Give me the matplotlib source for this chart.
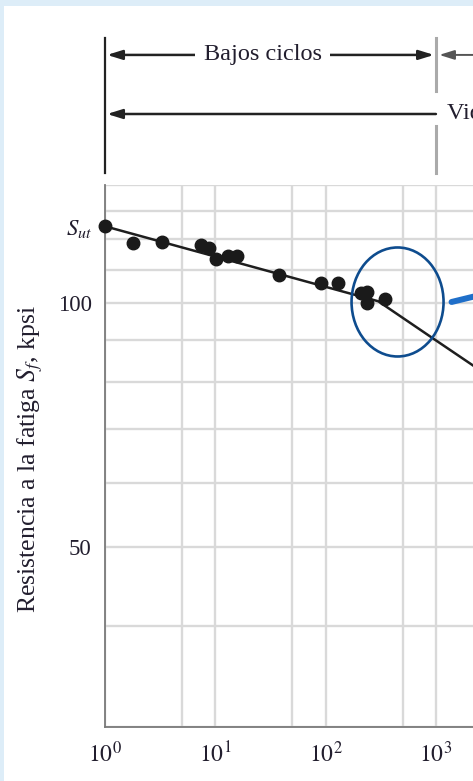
import numpy as np
import matplotlib
matplotlib.use("Agg")
import matplotlib.pyplot as plt
from matplotlib import transforms
from matplotlib.patches import Ellipse, Rectangle
from matplotlib.lines import Line2D
from matplotlib.ticker import FixedLocator, NullLocator

plt.rcParams["font.family"] = ["Liberation Serif", "DejaVu Serif"]
plt.rcParams["mathtext.fontset"] = "stix"

# ── data ──────────────────────────────────────────────────────────────────
N_pts = [1, 1.78, 3.28, 7.4, 8.8, 10.1, 13, 15.8, 37.8, 90, 128, 210, 237, 237, 343]
S_pts = [124.5, 118.7, 119.0, 118.1, 117.0, 113.4, 114.3, 114.3, 108.3, 105.9,
         105.9, 103.0, 103.3, 100.1, 101.3]

N_line = [1, 300, 1000, 10000]
S_line = [124.5, 100.6, 90.0, 72.8]

S_ut = 124.5
x_ticks = [1, 10, 100, 1000]
x_ticklabels = [r"$10^{0}$", r"$10^{1}$", r"$10^{2}$", r"$10^{3}$"]
y_ticks = [50, 100, S_ut]
y_ticklabels = ["50", "100", r"$S_{ut}$"]

grid_N = [1, 5, 10, 50, 100, 500, 1000, 5000]
grid_S = list(range(30, 150, 10))

TXT = "#221e2e"
GRID = "#d9d9d9"

# ── figure ────────────────────────────────────────────────────────────────
fig = plt.figure(figsize=(4.73, 7.81), dpi=100, facecolor="#ddedf8")
fig.patches.append(Rectangle((4/473, 0), 1, 1 - 6/781, transform=fig.transFigure,
                             facecolor="white", edgecolor="none", zorder=-10))
ax = fig.add_axes([105/473, 54/781, 368/473, 542/781])
ax.set_facecolor("white")
ax.set_xscale("log")
ax.set_yscale("log")
ax.set_xlim(1, 10**3.335)
ax.set_ylim(30, 140)

for n in grid_N:
    ax.axvline(n, color=GRID, lw=1.7, zorder=0)
for s in grid_S:
    ax.axhline(s, color=GRID, lw=1.7, zorder=0)

ax.plot(N_line, S_line, color="#1e1e1e", lw=1.8, zorder=3)
ax.plot(N_pts, S_pts, "o", color="#1a1a1a", ms=9, zorder=4, clip_on=False)

for side in ["top", "right"]:
    ax.spines[side].set_visible(False)
for side in ["left", "bottom"]:
    ax.spines[side].set_color("#7a7a7a")
    ax.spines[side].set_linewidth(1.3)

ax.xaxis.set_major_locator(FixedLocator(x_ticks))
ax.xaxis.set_minor_locator(NullLocator())
ax.set_xticklabels(x_ticklabels)
ax.yaxis.set_major_locator(FixedLocator(y_ticks))
ax.yaxis.set_minor_locator(NullLocator())
ax.set_yticklabels(y_ticklabels)
ax.tick_params(axis="x", length=0, pad=10.5, labelsize=17, labelcolor=TXT)
ax.tick_params(axis="y", length=0, pad=9.5, labelsize=16.5, labelcolor=TXT)

ax.set_ylabel(r"Resistencia a la fatiga $S_f$, kpsi", fontsize=18.5, color=TXT)
ax.yaxis.set_label_coords(-0.163, 0.494)

# ── cycle-range annotations above the axes ───────────────────────────────
trans = transforms.blended_transform_factory(ax.transData, ax.transAxes)
ax.plot([1, 1], [1.022, 1.271], transform=trans, clip_on=False, color="#222222", lw=1.6)
ax.plot([1000, 1000], [1.022, 1.109], transform=trans, clip_on=False, color="#aaaaaa", lw=2.2)
ax.plot([1000, 1000], [1.173, 1.271], transform=trans, clip_on=False, color="#aaaaaa", lw=2.2)

arr = dict(color="#222222", lw=1.8, shrinkA=1.5, shrinkB=1.5)
ax.annotate("", xy=(1, 1.24), xytext=(1000, 1.24), xycoords=trans, textcoords=trans,
            arrowprops=dict(arrowstyle="<|-|>,head_length=0.9,head_width=0.28", **arr))
ax.text(10**1.43, 1.24, "Bajos ciclos", transform=trans, ha="center", va="center",
        fontsize=17.5, color=TXT,
        bbox=dict(boxstyle="square,pad=0.35", facecolor="white", edgecolor="none"))
ax.annotate("", xy=(1, 1.131), xytext=(1042, 1.131), xycoords=trans, textcoords=trans,
            arrowprops=dict(arrowstyle="-|>,head_length=0.9,head_width=0.28", **arr))
ax.text(1259, 1.131, "Vida finita", transform=trans, ha="left", va="center",
        fontsize=17.5, color=TXT, clip_on=False)
ax.annotate("", xy=(1023, 1.24), xytext=(10**3.7, 1.24), xycoords=trans, textcoords=trans,
            arrowprops=dict(arrowstyle="-|>,head_length=0.9,head_width=0.28",
                            color="#555555", lw=1.4, shrinkA=0, shrinkB=1.5))

# ── highlight ellipse and pointer stroke ────────────────────────────────
trans_e = fig.dpi_scale_trans + transforms.ScaledTranslation(448, 100.4, ax.transData)
ax.add_artist(Ellipse((0, 0), 0.92, 1.09, transform=trans_e, fill=False,
                      edgecolor="#0e4c8e", lw=1.9, zorder=5, clip_on=False))
fig.add_artist(Line2D([0.54, 0.95], [0.0, 0.1], transform=trans_e, color="#1f6fc9",
                      lw=4.3, solid_capstyle="round", zorder=6))

fig.savefig("out.png", dpi=100, facecolor=fig.get_facecolor())
